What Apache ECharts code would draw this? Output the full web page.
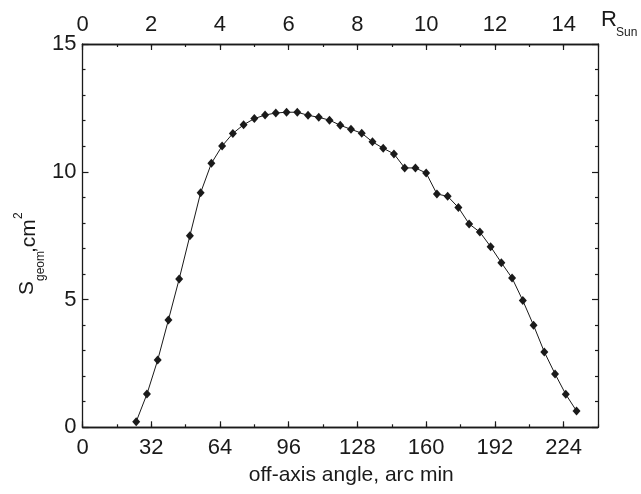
<!DOCTYPE html>
<html>
<head>
<meta charset="utf-8">
<script src="https://cdn.jsdelivr.net/npm/echarts@6/dist/echarts.min.js"></script>
<style>html,body{margin:0;padding:0;background:#fff}#c{width:641px;height:494px}</style>
</head>
<body>
<div id="c"></div>
<script>
// off-axis angle, arc min
var angles = [25,30,35,40,45,50,55,60,65,70,75,80,85,90,95,100,105,110,115,120,125,130,135,140,145,150,155,160,165,170,175,180,185,190,195,200,205,210,215,220,225,230];
// geometric area S_geom, cm^2
var sGeom = [0.22,1.30,2.63,4.20,5.80,7.50,9.18,10.33,11.01,11.50,11.84,12.08,12.22,12.30,12.33,12.33,12.21,12.13,12.02,11.82,11.66,11.51,11.17,10.92,10.70,10.15,10.15,9.95,9.13,9.04,8.60,7.96,7.64,7.07,6.44,5.84,4.96,3.99,2.95,2.09,1.29,0.64];
var xTicks = [0,32,64,96,128,160,192,224];
var topTicks = [0,2,4,6,8,10,12,14];
var yTicks = [0,5,10,15];

var FONT = 'Liberation Sans, Arial, sans-serif';
var INK = '#1a1a1a';
var LBL = 22;
var chart = echarts.init(document.getElementById('c'), null, {renderer: 'canvas'});

function axisBase(extra) {
  var a = {
    type: 'value',
    axisLine: {show: true, onZero: false, lineStyle: {color: INK, width: 1.3}},
    axisTick: {show: true, inside: true, length: 6, lineStyle: {color: INK, width: 1.2}},
    axisLabel: {show: true, fontSize: LBL, fontFamily: FONT, color: INK, showMaxLabel: false},
    splitLine: {show: false}
  };
  for (var k in extra) a[k] = extra[k];
  return a;
}

var data = angles.map(function (a, i) { return [a, sGeom[i]]; });

chart.setOption({
  animation: false,
  backgroundColor: '#fff',
  grid: {left: 82.5, right: 43, top: 44, bottom: 66.7, containLabel: false, outerBoundsMode: 'none'},
  xAxis: [
    axisBase({position: 'bottom', min: 0, max: 240, interval: xTicks[1] - xTicks[0],
      name: 'off-axis angle, arc min', nameLocation: 'middle', nameGap: 37, nameMoveOverlap: false,
      nameTextStyle: {fontSize: 21, fontFamily: FONT, color: INK, padding: [0, 0, 0, 22]},
      axisLabel: {show: true, fontSize: LBL, fontFamily: FONT, color: INK, margin: 10, showMaxLabel: false}}),
    axisBase({position: 'bottom', min: 0, max: 240, interval: 16,
      axisLabel: {show: false},
      axisTick: {show: true, inside: true, length: 3, lineStyle: {color: INK, width: 1.2}}}),
    axisBase({position: 'top', min: 0, max: 15, interval: topTicks[1] - topTicks[0],
      axisLabel: {show: true, fontSize: LBL, fontFamily: FONT, color: INK, margin: 8, showMaxLabel: false}}),
    axisBase({position: 'top', min: 0, max: 15, interval: 1,
      axisLabel: {show: false},
      axisTick: {show: true, inside: true, length: 3, lineStyle: {color: INK, width: 1.2}}})
  ],
  yAxis: [
    axisBase({position: 'left', min: 0, max: 15, interval: yTicks[1] - yTicks[0],
      minorTick: {show: true, splitNumber: 5, length: 3, lineStyle: {color: INK, width: 1.2}},
      axisLabel: {show: true, fontSize: LBL, fontFamily: FONT, color: INK, margin: 6, showMaxLabel: true}}),
    axisBase({position: 'right', min: 0, max: 15, interval: 5,
      minorTick: {show: true, splitNumber: 5, length: 3, lineStyle: {color: INK, width: 1.2}},
      axisLabel: {show: false}})
  ],
  series: [{
    type: 'line',
    xAxisIndex: 0,
    yAxisIndex: 0,
    data: data,
    symbol: 'diamond',
    symbolSize: [8, 9],
    showAllSymbol: true,
    lineStyle: {color: INK, width: 1},
    itemStyle: {color: INK},
    z: 5
  }],
  graphic: [
    {
      type: 'group', x: 35, y: 295, rotation: Math.PI / 2, silent: true,
      children: [
        {type: 'text', x: 0, y: -7.5, style: {text: 'S', fontSize: 21, fontFamily: FONT, fill: INK, align: 'left', verticalAlign: 'middle'}},
        {type: 'text', x: 14, y: 6, style: {text: 'geom', fontSize: 12, fontFamily: FONT, fill: INK, align: 'left', verticalAlign: 'middle'}},
        {type: 'text', x: 42, y: -5.5, style: {text: ',cm', fontSize: 21, fontFamily: FONT, fill: INK, align: 'left', verticalAlign: 'middle'}},
        {type: 'text', x: 76, y: -16, style: {text: '2', fontSize: 12, fontFamily: FONT, fill: INK, align: 'left', verticalAlign: 'middle'}}
      ]
    },
    {type: 'text', x: 601, y: 20, silent: true, style: {text: 'R', fontSize: 22, fontFamily: FONT, fill: INK, align: 'left', verticalAlign: 'middle'}},
    {type: 'text', x: 616, y: 33, silent: true, style: {text: 'Sun', fontSize: 12, fontFamily: FONT, fill: INK, align: 'left', verticalAlign: 'middle'}}
  ]
});
</script>
</body>
</html>
